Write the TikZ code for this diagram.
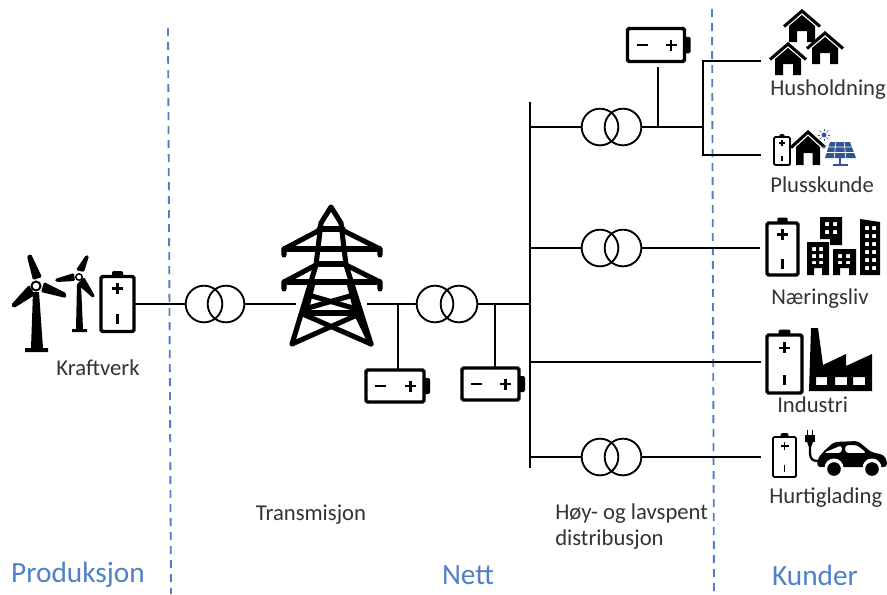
\documentclass[tikz,border=0pt]{standalone}
\usepackage{fontspec}
\setmainfont{Carlito}
\definecolor{divblue}{HTML}{5080C8}
\definecolor{labgray}{HTML}{333333}
\definecolor{panelblue}{HTML}{2F5597}
\tikzset{
  x=0.75pt,y=-0.75pt,
  wire/.style={line width=2.1pt,black},
  divider/.style={line width=1.4pt,divblue,dash pattern=on 6pt off 4.5pt},
  trafo/.style={circle,draw,line width=1.4pt,minimum size=27.5pt,inner sep=0pt,outer sep=0pt},
  battbody/.style={rectangle,draw,line width=2.6pt,rounded corners=1.2pt,inner sep=0pt,outer sep=0pt},
  thinbatt/.style={rectangle,draw,line width=1.4pt,rounded corners=1pt,inner sep=0pt,outer sep=0pt},
  lab/.style={text=labgray,font=\fontsize{17pt}{20pt}\selectfont,inner sep=0pt},
  head/.style={text=divblue,font=\fontsize{22pt}{26pt}\selectfont,inner sep=0pt},
  sign/.style={line width=2.1pt,black},
  tw/.style={line width=3.8pt,black,line join=round,line cap=round},
}
% horizontal battery: name, cx, cy, w, h
\newcommand{\hbatt}[5]{%
  \node[battbody,minimum width=#4*0.75pt,minimum height=#5*0.75pt] (#1) at (#2,#3) {};
  \fill[rounded corners=1pt] ($(#2,#3)+(#4/2,-#5/4)$) rectangle ($(#2,#3)+(#4/2+6,#5/4)$);
  \draw[sign] ($(#2,#3)+(-#4/2+9,0)$) -- ($(#2,#3)+(-#4/2+20,0)$);
  \draw[sign] ($(#2,#3)+(#4/2-19,0)$) -- ($(#2,#3)+(#4/2-8,0)$);
  \draw[sign] ($(#2,#3)+(#4/2-13.5,-5.5)$) -- ($(#2,#3)+(#4/2-13.5,5.5)$);
}
% vertical battery: name, cx, cy, w, h, style, sign size
\newcommand{\vbatt}[7]{%
  \node[#6,minimum width=#4*0.75pt,minimum height=#5*0.75pt] (#1) at (#2,#3) {};
  \fill[rounded corners=1pt] ($(#2,#3)+(-#4/6,-#5/2-#7)$) rectangle ($(#2,#3)+(#4/6,-#5/2)$);
  \draw[line width=#7*0.36pt] ($(#2,#3)+(-#7,-#5/4-#7*0.3)$) -- ($(#2,#3)+(#7,-#5/4-#7*0.3)$);
  \draw[line width=#7*0.36pt] ($(#2,#3)+(0,-#5/4-#7*1.3)$) -- ($(#2,#3)+(0,-#5/4+#7*0.7)$);
  \draw[line width=#7*0.36pt] ($(#2,#3)+(0,#5/4-#7*0.6)$) -- ($(#2,#3)+(0,#5/4+#7*1.2)$);
}
% house: apex x, apex y
\newcommand{\house}[2]{%
  \begin{scope}[shift={(#1,#2)}]
    \draw[line width=2.3pt,line join=miter] (-18,15.5) -- (0,0) -- (18,15.5);
    \fill (-13,15) -- (0,4) -- (13,15) -- (13,31) -- (5,31) -- (5,20) -- (-5,20) -- (-5,31) -- (-13,31) -- cycle;
  \end{scope}
}
\usetikzlibrary{calc}
\begin{document}
\begin{tikzpicture}
\useasboundingbox (0,0) rectangle (887,594);
\fill[white] (0,0) rectangle (887,594);

% dividers
\coordinate (d1t) at (168,28); \coordinate (d1b) at (171,594);
\coordinate (d2t) at (712,9);  \coordinate (d2b) at (714,594);
\draw[divider] (d1t) -- (d1b);
\draw[divider] (d2t) -- (d2b);

% transformers
\foreach \n/\xa/\xb/\y in {t1/204/226/304,t2/435/459/304,t3/600/623/127,t4/600/623/248,t5/600/623/457}{
  \node[trafo] (\n a) at (\xa,\y) {};
  \node[trafo] (\n b) at (\xb,\y) {};
}

% batteries
\vbatt{bK}{117.5}{304}{33}{55}{battbody}{5.5}
\hbatt{b1}{395}{386}{58}{32}
\hbatt{b2}{490.5}{384}{57}{32}
\hbatt{b3}{656}{45}{57}{33}
\vbatt{bN}{782.5}{249}{31}{52}{battbody}{5.5}
\vbatt{bI}{784.5}{364}{35}{58}{battbody}{5.5}
\vbatt{bH}{784.5}{457}{23}{40}{thinbatt}{4}
\vbatt{bP}{782}{151}{16}{28}{thinbatt}{2.8}

% bus and junctions
\coordinate (busT) at (530,102); \coordinate (busB) at (530,468);
\coordinate (j304) at (530,304); \coordinate (j127) at (530,127);
\coordinate (j248) at (530,248); \coordinate (j362) at (530,362);
\coordinate (j457) at (530,457);
\coordinate (tL) at (296,304); \coordinate (tR) at (367,304);
\coordinate (s1) at (398,304); \coordinate (s2) at (495,304);
\coordinate (s3) at (658,127); \coordinate (fork) at (703,127);
\coordinate (forkT) at (703,61); \coordinate (forkB) at (703,155);
\coordinate (cH) at (761,61); \coordinate (cP) at (761,155);
\coordinate (cN) at (760,248); \coordinate (cI) at (761,362); \coordinate (cQ) at (761,457);

\draw[wire] (busT) -- (busB);
\draw[wire] (bK.east) -- (t1a.west);
\draw[wire] (t1b.east) -- (tL);
\draw[wire] (tR) -- (t2a.west);
\draw[wire] (t2b.east) -- (j304);
\draw[wire] (s1) -- (s1 |- b1.north);
\draw[wire] (s2) -- (s2 |- b2.north);
\draw[wire] (j127) -- (t3a.west);
\draw[wire] (t3b.east) -- (fork);
\draw[wire] (s3) -- (s3 |- 0,67);
\draw[wire] (cH) -- (forkT) -- (forkB) -- (cP);
\draw[wire] (j248) -- (t4a.west);
\draw[wire] (t4b.east) -- (cN);
\draw[wire] (j362) -- (cI);
\draw[wire] (j457) -- (t5a.west);
\draw[wire] (t5b.east) -- (cQ);

% tower
\draw[tw] (292,344) -- (316,265) -- (321,223) -- (331,207) -- (341,223) -- (346,265) -- (371,344) -- (357,315) -- (292,344);
\draw[tw] (371,344) -- (305,315);
\draw[tw] (305,313) -- (357,313);
\draw[tw] (312,296) -- (353,308);
\draw[tw] (350,296) -- (308,308);
\draw[tw] (319,229) -- (343,229);
\draw[tw] (284,255) -- (284,249) -- (318,231);
\draw[tw] (380,255) -- (380,249) -- (344,231);
\draw[tw] (284,249) -- (380,249);
\draw[tw] (316,264) -- (346,264);
\draw[tw] (284,289) -- (284,282) -- (316,265);
\draw[tw] (380,289) -- (380,282) -- (346,265);
\draw[tw] (284,282) -- (380,282);
\draw[tw] (313,283) -- (305,315);
\draw[tw] (349,283) -- (357,315);

% wind turbines
\fill (25,352) -- (25,348) -- (31,348) -- (33,292) -- (39,292) -- (43,348) -- (48,348) -- (48,352) -- cycle;
\fill[rounded corners=1pt] (27,256) -- (31,254) -- (42,277) -- (33,280) -- cycle;
\fill[rounded corners=1pt] (44,282) -- (66,293) -- (66,298) -- (41,292) -- cycle;
\fill[rounded corners=1pt] (29,285) -- (35,295) -- (14,308) -- (11,305) -- cycle;
\draw[line width=1.5pt,fill=white] (36,286) circle (4.5);
\fill (72,332) -- (72,329) -- (76,329) -- (77,284) -- (81,284) -- (83,329) -- (87,329) -- (87,332) -- cycle;
\fill[rounded corners=1pt] (86,255) -- (89,256) -- (84,272) -- (76,270) -- cycle;
\fill[rounded corners=1pt] (74,273) -- (75,281) -- (56,282) -- (55,279) -- cycle;
\fill[rounded corners=1pt] (84,277) -- (95,296) -- (93,298) -- (77,284) -- cycle;
\draw[line width=1.1pt,fill=white] (79,277) circle (3.2);

% houses
\house{802}{11}
\house{788}{44}
\house{825}{33}
\begin{scope}[shift={(808,132)}]
  \draw[line width=2.3pt] (-17,15.5) -- (0,0) -- (17,15.5);
  \fill (-12,15) -- (0,4) -- (12,15) -- (12,33) -- (4.5,33) -- (4.5,21) -- (-4.5,21) -- (-4.5,33) -- (-12,33) -- cycle;
\end{scope}

% solar panel and sun
\fill[panelblue] (830,142) -- (850,142) -- (856,158) -- (825,158) -- cycle;
\draw[white,line width=0.5pt] (823,147) -- (856,147) (823,152.5) -- (856,152.5) (836,141) -- (834,159) (844,141) -- (846,159);
\draw[panelblue,line width=1pt] (840,158) -- (840,164) (833,165) -- (848,165);
\fill[panelblue] (824,135) circle (2.4);
\foreach \a in {0,45,...,315}{\draw[panelblue,line width=0.5pt] (824,135) ++(\a:3.6) -- ++(\a:2.6);}

% buildings
\fill[even odd rule] (807,275) -- (807,242) -- (829,242) -- (829,275) -- (822,275) -- (822,268) -- (814,268) -- (814,275) -- cycle
  (812,247) rectangle (816,251) (819,247) rectangle (823,251)
  (812,254) rectangle (816,258) (819,254) rectangle (823,258)
  (812,261) rectangle (816,264) (819,261) rectangle (823,264);
\fill[even odd rule] (820,217) -- (842,217) -- (842,245) -- (830,245) -- (830,239) -- (820,239) -- cycle
  (825,222) rectangle (829,226) (833,222) rectangle (837,226)
  (825,230) rectangle (829,234) (833,230) rectangle (837,234);
\fill[even odd rule] (833,275) -- (833,249) -- (856,249) -- (856,275) -- (849,275) -- (849,268) -- (840,268) -- (840,275) -- cycle
  (838,254) rectangle (842,258) (846,254) rectangle (850,258)
  (838,261) rectangle (842,264) (846,261) rectangle (850,264);
\fill[even odd rule] (860,275) -- (860,219) -- (880,222) -- (880,275) -- cycle
  (865,226) rectangle (869,230) (872,226) rectangle (876,230)
  (865,234) rectangle (869,238) (872,234) rectangle (876,238)
  (865,242) rectangle (869,246) (872,242) rectangle (876,246)
  (865,250) rectangle (869,254) (872,250) rectangle (876,254)
  (865,258) rectangle (869,262) (872,258) rectangle (876,262)
  (865,266) rectangle (869,270) (872,266) rectangle (876,270);

% factory
\fill[even odd rule] (809,391) -- (811,328) -- (818,328) -- (823,365) -- (846,354) -- (846,366) -- (872,354) -- (872,391) -- cycle
  (816,377) rectangle (827,385) (835,377) rectangle (847,385) (853,377) rectangle (865,385);

% charger plug and car
\draw[line width=1.7pt,line join=round] (810,440) -- (810,452) .. controls (810,460) and (813,461) .. (819,461);
\fill (805,435) rectangle (815,442);
\fill (807,442) -- (813,442) -- (811,447) -- (809,447) -- cycle;
\draw[line width=1.2pt] (807.5,430) -- (807.5,437) (812.5,430) -- (812.5,437);
\fill[rounded corners=2.5pt,even odd rule] (817,467) -- (818,458) -- (824,451) -- (834,442) -- (858,441) -- (871,452) -- (884,455) -- (887,461) -- (887,467) -- cycle
  (823,453) -- (842,445) -- (842,453) -- cycle
  (845,445) -- (857,445) -- (867,453) -- (845,453) -- cycle;
\fill[white] (834,468) circle (9.5) (872,468) circle (9.5);
\fill (834,469) circle (6.8) (872,469) circle (6.8);

% labels
\node[lab] (lK) at (98,368) {Kraftverk};
\node[lab] (lT) at (311,515) {Transmisjon};
\node[lab,anchor=west] (lD1) at (555,514) {Høy- og lavspent};
\node[lab,anchor=west] (lD2) at (555,540) {distribusjon};
\node[lab,anchor=west] (lHu) at (770,90) {Husholdning};
\node[lab,anchor=west] (lP) at (770,185) {Plusskunde};
\node[lab,anchor=west] (lN) at (771,299) {Næringsliv};
\node[lab,anchor=west] (lI) at (777,405) {Industri};
\node[lab,anchor=west] (lQ) at (769,498) {Hurtiglading};
\node[head] (hP) at (78,575) {Produksjon};
\node[head] (hN) at (468,575) {Nett};
\node[head] (hK) at (815,575) {Kunder};
\end{tikzpicture}
\end{document}
